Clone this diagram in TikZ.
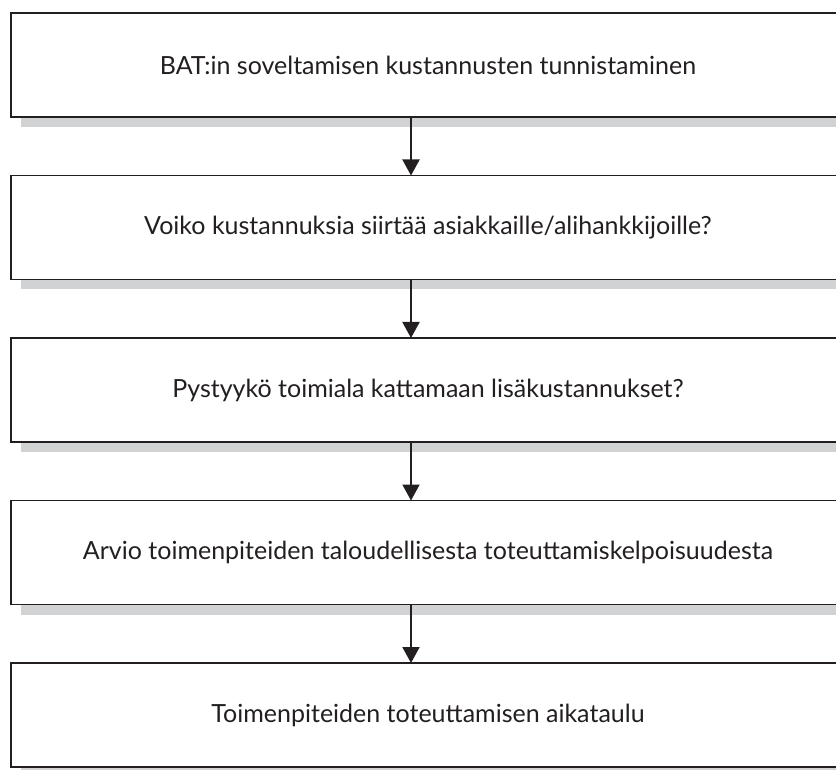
\documentclass[tikz,border=0pt]{standalone}
\usepackage{fontspec}
\setmainfont{Lato}
\usetikzlibrary{positioning,shadows,arrows.meta}
\definecolor{ink}{HTML}{231F20}
\definecolor{shade}{HTML}{D1D2D4}

\begin{document}
\begin{tikzpicture}[x=1pt,y=-1pt,
  stepbox/.style={draw=ink,line width=1.6pt,fill=white,text=ink,outer sep=0pt,
    minimum width=834pt,minimum height=104pt,
    font=\fontsize{25}{30}\selectfont,
    drop shadow={shadow xshift=10pt,shadow yshift=-10pt,fill=shade,opacity=1}},
  flow/.style={draw=ink,line width=2pt,-{Triangle[length=16pt,width=17pt]}},
  node distance=58.5pt]
\useasboundingbox (0,0) rectangle (836,770);
\clip (0,0) rectangle (836,770);
\node[stepbox] (cost) at (428,65) {BAT:in soveltamisen kustannusten tunnistaminen};
\node[stepbox,below=of cost] (pass) {Voiko kustannuksia siirtää asiakkaille/alihankkijoille?};
\node[stepbox,below=of pass] (cover) {Pystyykö toimiala kattamaan lisäkustannukset?};
\node[stepbox,below=of cover] (assess) {Arvio toimenpiteiden taloudellisesta toteuttamiskelpoisuudesta};
\node[stepbox,below=of assess] (plan) {Toimenpiteiden toteuttamisen aikataulu};
% arrows sit left of the box centres
\foreach \a/\b in {cost/pass,pass/cover,cover/assess,assess/plan}
  \draw[flow] (\a.south -| 411,0) -- (\b.north -| 411,0);
\end{tikzpicture}
\end{document}
